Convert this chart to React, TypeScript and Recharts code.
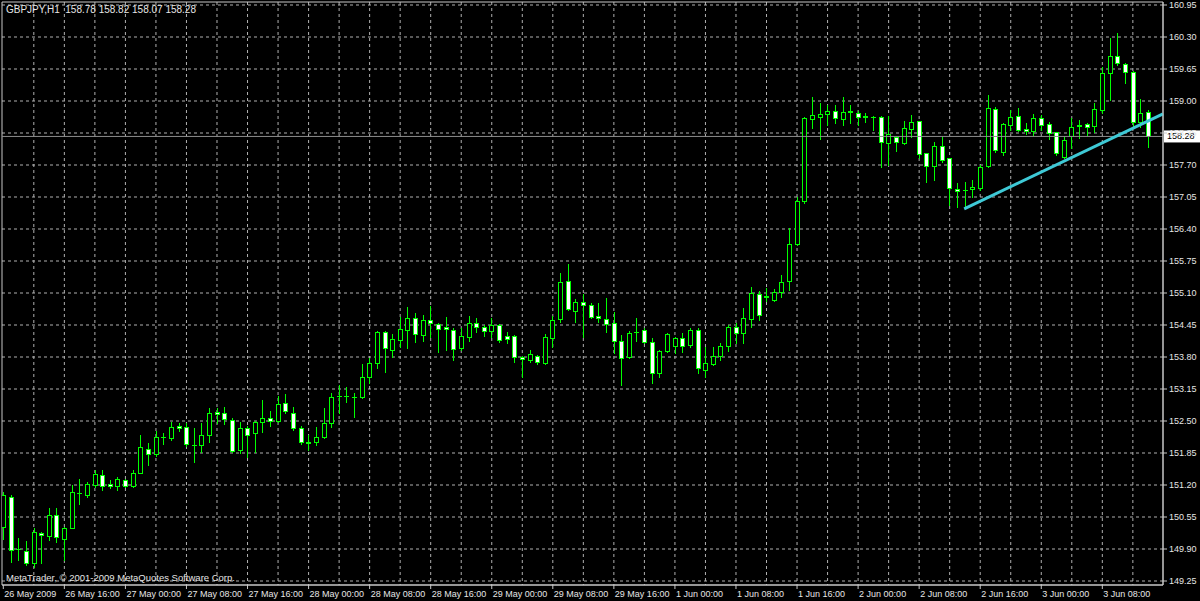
import React from 'react';
import { ComposedChart, Bar, XAxis, YAxis, CartesianGrid, ReferenceLine, ReferenceArea } from 'recharts';

// GBPJPY H1, 26 May 2009 08:00 .. 3 Jun 2009 14:00, one entry per hour bar
const opens = [
  150.35, 150.96, 149.90, 149.86, 149.62, 150.23, 150.17, 150.59, 150.10, 150.33,
  151.04, 151.00, 151.20, 151.40, 151.22, 151.18, 151.30, 151.18, 151.44, 151.93,
  151.83, 152.18, 152.15, 152.40, 152.38, 152.01, 152.01, 152.22, 152.68, 152.66,
  152.52, 151.91, 152.36, 152.26, 152.48, 152.56, 152.50, 152.87, 152.66, 152.36,
  152.07, 152.07, 152.18, 152.46, 153.01, 153.00, 152.99, 152.99, 153.39, 153.68,
  154.31, 153.94, 154.15, 154.35, 154.59, 154.25, 154.55, 154.47, 154.41, 154.35,
  153.98, 154.21, 154.49, 154.41, 154.33, 154.45, 154.23, 154.23, 153.80, 153.74,
  153.82, 153.68, 154.19, 154.57, 155.34, 154.73, 154.92, 154.86, 154.63, 154.57,
  154.49, 154.12, 153.80, 154.31, 154.35, 154.10, 153.47, 153.92, 154.02, 154.19,
  154.04, 154.35, 153.53, 153.66, 153.82, 154.02, 154.41, 154.29, 154.57, 155.08,
  155.02, 154.96, 155.12, 155.34, 156.10, 156.97, 158.63, 158.68, 158.74, 158.80,
  158.63, 158.78, 158.76, 158.68, 158.68, 158.68, 158.15, 158.27, 158.15, 158.43,
  158.59, 157.94, 157.68, 158.09, 157.84, 157.21, 157.19, 157.21, 157.23, 157.68,
  158.84, 157.96, 158.51, 158.70, 158.43, 158.39, 158.65, 158.53, 158.37, 157.86,
  158.29, 158.49, 158.53, 158.49, 158.82, 159.57, 159.91, 159.75, 159.59, 158.57,
  158.78,
];
const highs = [
  151.06, 151.00, 150.12, 150.07, 150.33, 150.25, 150.73, 150.73, 150.35, 151.20,
  151.32, 151.26, 151.50, 151.50, 151.30, 151.36, 151.32, 151.50, 152.22, 152.05,
  152.30, 152.26, 152.47, 152.45, 152.45, 152.36, 152.46, 152.76, 152.76, 152.78,
  152.56, 152.48, 152.40, 152.50, 152.93, 152.70, 153.01, 153.05, 152.78, 152.40,
  152.22, 152.38, 152.76, 153.07, 153.23, 153.19, 153.07, 153.66, 153.78, 154.33,
  154.33, 154.27, 154.61, 154.82, 154.69, 154.65, 154.83, 154.49, 154.61, 154.39,
  154.39, 154.63, 154.59, 154.45, 154.59, 154.47, 154.31, 154.25, 153.82, 153.94,
  153.84, 154.27, 154.63, 155.51, 155.69, 154.98, 155.08, 154.90, 154.90, 155.00,
  154.72, 154.25, 154.33, 154.59, 154.39, 154.19, 153.94, 154.29, 154.21, 154.29,
  154.39, 154.39, 154.00, 154.00, 154.08, 154.45, 154.49, 154.80, 155.22, 155.14,
  155.20, 155.18, 155.47, 156.42, 157.05, 158.67, 159.08, 158.96, 158.92, 158.92,
  159.08, 158.92, 158.80, 158.76, 158.69, 158.69, 158.70, 158.29, 158.59, 158.72,
  158.60, 157.95, 158.17, 158.27, 157.85, 157.33, 157.35, 157.40, 157.70, 159.12,
  158.88, 158.55, 158.82, 158.86, 158.55, 158.74, 158.72, 158.57, 158.38, 158.27,
  158.65, 158.61, 158.55, 158.96, 159.69, 160.28, 160.38, 159.77, 159.60, 159.04,
  158.82,
];
const lows = [
  150.10, 149.64, 149.68, 149.57, 149.53, 149.62, 150.08, 150.04, 149.68, 150.33,
  150.81, 150.96, 151.16, 151.10, 151.14, 151.10, 151.16, 151.16, 151.44, 151.60,
  151.79, 152.04, 152.12, 152.30, 152.00, 151.67, 151.87, 152.07, 152.46, 152.44,
  151.87, 151.85, 151.76, 151.87, 152.28, 152.40, 152.48, 152.66, 152.32, 152.03,
  151.91, 152.01, 152.16, 152.38, 152.66, 152.89, 152.58, 152.97, 153.27, 153.58,
  153.50, 153.80, 154.00, 153.98, 154.11, 154.12, 154.21, 153.90, 153.94, 153.74,
  153.94, 154.13, 154.31, 154.23, 154.21, 154.11, 154.08, 153.70, 153.39, 153.70,
  153.66, 153.66, 154.00, 154.51, 154.75, 154.51, 154.21, 154.59, 154.51, 154.31,
  153.88, 153.23, 153.78, 154.12, 154.08, 153.27, 153.39, 153.90, 153.88, 153.90,
  154.00, 153.47, 153.39, 153.64, 153.74, 153.92, 154.08, 154.08, 154.41, 154.55,
  154.94, 154.94, 155.02, 155.16, 156.08, 156.93, 158.45, 158.23, 158.51, 158.55,
  158.51, 158.55, 158.51, 158.57, 158.41, 157.66, 157.70, 157.98, 158.13, 158.27,
  157.84, 157.35, 157.40, 157.76, 156.89, 156.85, 156.83, 157.05, 157.19, 157.66,
  157.96, 157.90, 158.41, 158.39, 158.33, 158.31, 158.41, 158.23, 157.90, 157.84,
  158.05, 158.25, 158.31, 158.37, 158.76, 159.02, 159.73, 159.37, 158.47, 158.47,
  158.07,
];
const closes = [
  151.00, 149.88, 149.90, 149.62, 150.25, 150.19, 150.59, 150.14, 150.33, 151.06,
  151.03, 151.22, 151.42, 151.18, 151.18, 151.32, 151.18, 151.44, 151.97, 151.83,
  152.18, 152.17, 152.38, 152.36, 152.03, 152.02, 152.22, 152.66, 152.64, 152.54,
  151.89, 152.36, 152.22, 152.48, 152.56, 152.50, 152.85, 152.70, 152.36, 152.07,
  152.06, 152.18, 152.46, 152.99, 153.00, 153.01, 152.98, 153.39, 153.68, 154.31,
  153.98, 154.17, 154.37, 154.59, 154.27, 154.55, 154.49, 154.37, 154.37, 153.96,
  154.23, 154.49, 154.41, 154.33, 154.45, 154.15, 154.17, 153.80, 153.76, 153.86,
  153.70, 154.21, 154.55, 155.32, 154.77, 154.92, 154.86, 154.61, 154.59, 154.47,
  154.12, 153.78, 154.29, 154.30, 154.10, 153.47, 153.92, 154.27, 154.19, 154.02,
  154.35, 153.58, 153.68, 153.82, 154.02, 154.41, 154.29, 154.59, 155.10, 154.65,
  155.04, 155.12, 155.32, 156.10, 156.97, 158.65, 158.72, 158.74, 158.80, 158.65,
  158.78, 158.79, 158.68, 158.69, 158.68, 158.17, 158.33, 158.17, 158.45, 158.57,
  157.92, 157.68, 158.09, 157.80, 157.23, 157.17, 157.20, 157.25, 157.66, 158.86,
  158.00, 158.53, 158.68, 158.41, 158.39, 158.65, 158.51, 158.35, 157.94, 158.21,
  158.47, 158.51, 158.47, 158.84, 159.57, 159.91, 159.77, 159.59, 158.57, 158.76,
  158.28,
];

const priceTicks = [
  160.95, 160.3, 159.65, 159.0, 158.35, 157.7, 157.05, 156.4, 155.75, 155.1,
  154.45, 153.8, 153.15, 152.5, 151.85, 151.2, 150.55, 149.9, 149.25,
];
const timeTicks = [0, 8, 16, 24, 32, 40, 48, 56, 64, 72, 80, 88, 96, 104, 112, 120, 128, 136, 144];
const timeLabels = [
  '26 May 2009', '26 May 16:00', '27 May 00:00', '27 May 08:00', '27 May 16:00',
  '28 May 00:00', '28 May 08:00', '28 May 16:00', '29 May 00:00', '29 May 08:00',
  '29 May 16:00', '1 Jun 00:00', '1 Jun 08:00', '1 Jun 16:00', '2 Jun 00:00',
  '2 Jun 08:00', '2 Jun 16:00', '3 Jun 00:00', '3 Jun 08:00',
];
const trendLine = [
  { x: 125.9, y: 156.81 },
  { x: 151.95, y: 158.74 },
];
const lastPrice = 158.28;
const symbolLine = 'GBPJPY,H1  158.78 158.82 158.07 158.28';

const X_DOMAIN: [number, number] = [-0.17, 151.95];
const Y_DOMAIN: [number, number] = [149.169, 161.011];
const gridBars = Array.from({ length: 37 }, (_, k) => (k + 1) * 4);

const FONT = "'Liberation Sans', Arial, sans-serif";
const GREEN = '#00ff00';
const TEXT = '#e6e6e6';

const candles = opens.map((o, i) => ({
  bar: i,
  open: o,
  high: highs[i],
  low: lows[i],
  close: closes[i],
}));

function Candle(props: any) {
  const { x, y, width, height, payload } = props;
  if (x == null || y == null) return null;
  const { open, close, high, low } = payload;
  const range = high - low || 1;
  const py = (p: number) => y + ((high - p) / range) * height;
  const cx = Math.round(x + width / 2);
  const top = Math.round(py(Math.max(open, close)));
  const bottom = Math.round(py(Math.min(open, close)));
  const bear = close < open;
  return (
    <g>
      <line x1={cx + 0.5} x2={cx + 0.5} y1={Math.round(y)} y2={Math.round(y + height) + 1} stroke={GREEN} strokeWidth={1} />
      {bottom - top < 1 ? (
        <line x1={cx - 2} x2={cx + 3} y1={top + 0.5} y2={top + 0.5} stroke={GREEN} strokeWidth={1} />
      ) : (
        <rect
          x={cx - 1.5}
          y={top + 0.5}
          width={4}
          height={bottom - top}
          fill={bear ? '#ffffff' : '#000000'}
          stroke={GREEN}
          strokeWidth={1}
        />
      )}
    </g>
  );
}

function TimeTick(props: any) {
  const { x, y, payload } = props;
  const idx = timeTicks.indexOf(payload.value);
  return (
    <text x={x + 1} y={y + 6} fill={TEXT} fontSize={9} fontFamily={FONT} textAnchor="start">
      {timeLabels[idx] ?? ''}
    </text>
  );
}

function PriceTick(props: any) {
  const { x, y, payload } = props;
  return (
    <text x={x} y={y + 3} fill={TEXT} fontSize={9} fontFamily={FONT} textAnchor="start">
      {Number(payload.value).toFixed(2)}
    </text>
  );
}

function LastPriceLabel(props: any) {
  const { viewBox } = props;
  if (!viewBox) return null;
  const left = viewBox.x + viewBox.width + 1;
  return (
    <g>
      <rect x={left} y={viewBox.y - 6} width={36} height={12} fill="#ffffff" />
      <text x={left + 3} y={viewBox.y + 3} fill="#000000" fontSize={9} fontFamily={FONT}>
        {lastPrice.toFixed(2)}
      </text>
    </g>
  );
}

export default function App() {
  return (
    <div style={{ position: 'absolute', left: 0, top: 0, width: 1200, height: 601, background: '#000' }}>
      <ComposedChart
        width={1200}
        height={601}
        data={candles}
        margin={{ top: 2, right: 0, bottom: 0, left: 2 }}
        style={{ background: '#000' }}
      >
        <CartesianGrid
          stroke="#b0b0b0"
          strokeDasharray="3 3"
          verticalValues={gridBars}
          horizontalValues={priceTicks}
        />
        <XAxis
          type="number"
          dataKey="bar"
          domain={X_DOMAIN}
          allowDataOverflow
          ticks={timeTicks}
          interval={0}
          tick={<TimeTick />}
          tickSize={4}
          height={16}
          axisLine={{ stroke: '#c8c8c8' }}
          tickLine={{ stroke: '#c8c8c8' }}
        />
        <YAxis
          type="number"
          orientation="right"
          domain={Y_DOMAIN}
          allowDataOverflow
          ticks={priceTicks}
          interval={0}
          tick={<PriceTick />}
          tickSize={4}
          width={37}
          axisLine={{ stroke: '#c8c8c8' }}
          tickLine={{ stroke: '#c8c8c8' }}
        />
        <ReferenceArea
          x1={X_DOMAIN[0]}
          x2={X_DOMAIN[1]}
          y1={Y_DOMAIN[0]}
          y2={Y_DOMAIN[1]}
          fill="none"
          stroke="#c8c8c8"
          strokeWidth={1}
        />
        <ReferenceLine y={lastPrice} stroke="#8c8c8c" strokeWidth={1} label={<LastPriceLabel />} />
        <Bar
          dataKey={(d: any) => [d.low, d.high]}
          barSize={5}
          shape={(p: any) => <Candle {...p} />}
          isAnimationActive={false}
        />
        <ReferenceLine segment={trendLine} stroke="#3ec9d6" strokeWidth={3} />
      </ComposedChart>
      <div
        style={{
          position: 'absolute', left: 6, top: 4, color: TEXT, fontSize: 10,
          fontFamily: FONT, whiteSpace: 'pre', lineHeight: '11px',
        }}
      >
        {symbolLine}
      </div>
      <div
        style={{
          position: 'absolute', left: 6, top: 572, color: TEXT, fontSize: 9.5,
          fontFamily: FONT, whiteSpace: 'pre', lineHeight: '11px',
        }}
      >
        MetaTrader, © 2001-2009 MetaQuotes Software Corp.
      </div>
    </div>
  );
}
